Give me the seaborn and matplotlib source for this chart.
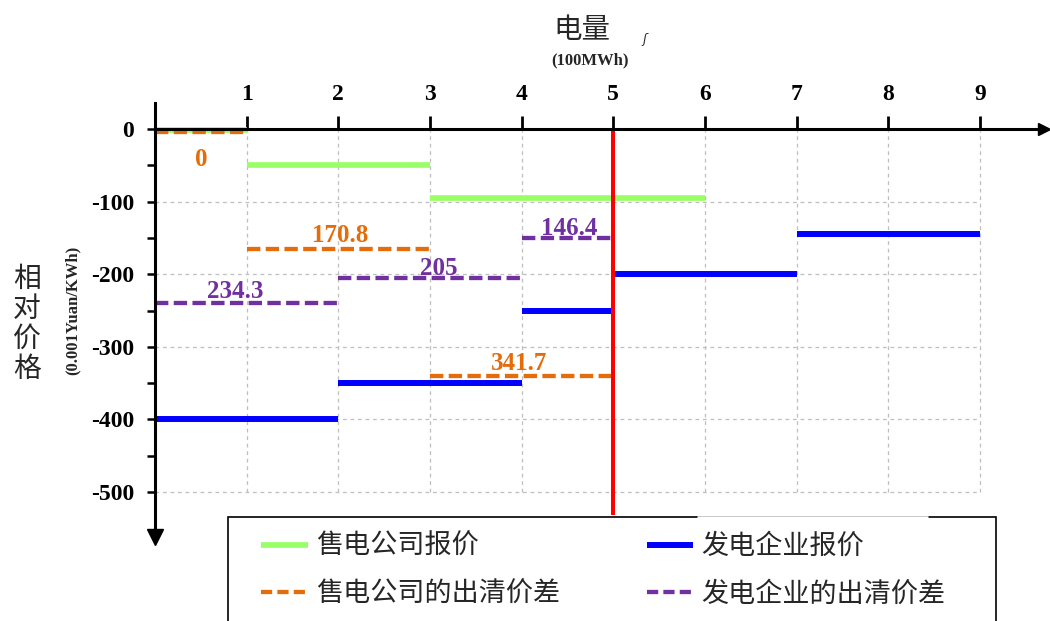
import pandas as pd
import seaborn as sns
import matplotlib.pyplot as plt
from matplotlib.lines import Line2D
from matplotlib.patches import Rectangle

# 售电公司报价 (起点, 终点, 价格)
sell_start = [0, 1, 3]
sell_end = [1, 3, 6]
sell_price = [-2, -50, -95]

# 发电企业报价
gen_start = [0, 2, 4, 5, 7]
gen_end = [2, 4, 5, 7, 9]
gen_price = [-400, -350, -250, -200, -145]

# 售电公司的出清价差
sgap_start = [0, 1, 3]
sgap_end = [1, 3, 5]
sgap_price = [-4, -165, -340]
sgap_label = ['0', '170.8', '341.7']

# 发电企业的出清价差
ggap_start = [0, 2, 4]
ggap_end = [2, 4, 5]
ggap_price = [-240, -205, -150]
ggap_label = ['234.3', '205', '146.4']

clear_q = 5
x_ticks = [1, 2, 3, 4, 5, 6, 7, 8, 9]
y_ticks = [0, -100, -200, -300, -400, -500]
y_minor = [-50, -150, -250, -350, -450]

sns.set_theme(style='white')
plt.rcParams['font.family'] = ['Noto Sans CJK SC', 'DejaVu Sans']
plt.rcParams['axes.unicode_minus'] = False
plt.rcParams['lines.solid_capstyle'] = 'butt'
plt.rcParams['lines.dash_capstyle'] = 'butt'

serif = ['Liberation Serif', 'DejaVu Serif']
green, blue, orange, purple = '#99FF66', '#0000FF', '#E46C0A', '#7030A0'
dash = (0, (3.1, 1.25))


def segmentos(starts, ends, prices):
    filas = []
    for i, (a, b, p) in enumerate(zip(starts, ends, prices)):
        filas.append({'x': a, 'y': p, 'seg': i})
        filas.append({'x': b, 'y': p, 'seg': i})
    return pd.DataFrame(filas)


W, H = 1050, 621
fig = plt.figure(figsize=(W / 100, H / 100), dpi=100)

# ejes: x=0 en 155px, 91.67px por unidad; y=0 en 129px, 0.726px por unidad
xl, xr = -0.05, 9.76
yb, yt = -580, 40
px_l = 155 + xl * 91.67
px_r = 155 + xr * 91.67
py_t = 129 - yt * 0.726
py_b = 129 - yb * 0.726
ax = fig.add_axes([px_l / W, 1 - py_b / H, (px_r - px_l) / W, (py_b - py_t) / H])
ax.set_xlim(xl, xr)
ax.set_ylim(yb, yt)
ax.patch.set_alpha(0)

# rejilla punteada
ax.hlines(y_ticks[1:], 0, 9, colors='#BFBFBF', linestyles=(0, (3, 3)), lw=0.9, zorder=0)
ax.vlines(x_ticks, -500, 0, colors='#BFBFBF', linestyles=(0, (3, 3)), lw=0.9, zorder=0)

# líneas de precio
sns.lineplot(data=segmentos(sell_start, sell_end, sell_price), x='x', y='y', units='seg',
             estimator=None, sort=False, color=green, lw=4.1, ax=ax, legend=False, zorder=3)
sns.lineplot(data=segmentos(gen_start, gen_end, gen_price), x='x', y='y', units='seg',
             estimator=None, sort=False, color=blue, lw=4.3, ax=ax, legend=False, zorder=3)
sns.lineplot(data=segmentos(sgap_start, sgap_end, sgap_price), x='x', y='y', units='seg',
             estimator=None, sort=False, color=orange, lw=3.1, ls=dash, ax=ax,
             legend=False, zorder=4)
sns.lineplot(data=segmentos(ggap_start, ggap_end, ggap_price), x='x', y='y', units='seg',
             estimator=None, sort=False, color=purple, lw=3.1, ls=dash, ax=ax,
             legend=False, zorder=4)

# línea de cantidad de equilibrio
ax.plot([clear_q, clear_q], [0, -531], color='red', lw=2.9, zorder=5, clip_on=False)

# etiquetas de los diferenciales (x del texto y desplazamiento en puntos)
sgap_lab_x = [0.5, 2.02, 3.97]
sgap_dy = [-24.5, 5, 4.3]
for x, p, lab, dy in zip(sgap_lab_x, sgap_price, sgap_label, sgap_dy):
    ax.annotate(lab, (x, p), xytext=(0, dy), textcoords='offset points',
                ha='center', va='baseline', color=orange, fontsize=18, fontweight='bold',
                family=serif, zorder=6)
ggap_lab_x = [0.87, 3.09, 4.52]
ggap_dy = [3.6, 2.2, 1.8]
for x, p, lab, dy in zip(ggap_lab_x, ggap_price, ggap_label, ggap_dy):
    ax.annotate(lab, (x, p), xytext=(0, dy), textcoords='offset points',
                ha='center', va='baseline', color=purple, fontsize=18, fontweight='bold',
                family=serif, zorder=6)

# ejes con flechas
ax.spines['right'].set_visible(False)
ax.spines['bottom'].set_visible(False)
ax.spines['top'].set_position(('data', 0))
ax.spines['top'].set_bounds(0, 9.68)
ax.spines['left'].set_position(('data', 0))
ax.spines['left'].set_bounds(-560, 36)
for s in ['top', 'left']:
    ax.spines[s].set_linewidth(2.2)
    ax.spines[s].set_color('black')
    ax.spines[s].set_zorder(7)
ax.plot([9.7], [0], marker='>', ms=9, color='black', clip_on=False, zorder=8)
ax.plot([0], [-562], marker='v', ms=11, color='black', clip_on=False, zorder=8)

ax.xaxis.set_ticks_position('top')
ax.set_xticks(x_ticks)
ax.set_xticklabels([str(v) for v in x_ticks])
ax.set_yticks(y_ticks)
ax.set_yticklabels([str(v) for v in y_ticks])
ax.set_yticks(y_minor, minor=True)
ax.tick_params(axis='x', which='major', direction='out', length=9.5, width=2, pad=8,
               colors='black')
ax.tick_params(axis='y', which='both', direction='out', length=6, width=1.8, pad=9,
               colors='black', left=True)
for t in ax.get_xticklabels() + ax.get_yticklabels():
    t.set_fontfamily(serif)
    t.set_fontweight('bold')
    t.set_fontsize(17)
ax.set_xlabel('')
ax.set_ylabel('')

# títulos de ejes
fig.text(582 / W, 1 - 30 / H, '电量', ha='center', va='center', fontsize=20.5)
fig.text(590 / W, 1 - 60 / H, '(100MWh)', ha='center', va='center', fontsize=12,
         fontweight='bold', family=serif)
fig.text(645 / W, 1 - 40 / H, 'ʃ', ha='center', va='center', fontsize=9, style='italic')
fig.text(27 / W, 1 - 324 / H, '相\n对\n价\n格', ha='center', va='center', fontsize=20,
         linespacing=1.0)
fig.text(73 / W, 1 - 310 / H, '(0.001Yuan/KWh)', ha='center', va='center', fontsize=12,
         fontweight='bold', family=serif, rotation=90)

# leyenda con marco propio
fig.patches.append(Rectangle((228 / W, 1 - 680 / H), (996 - 228) / W, (680 - 517) / H,
                             transform=fig.transFigure, facecolor='white',
                             edgecolor='black', lw=1.2, zorder=9))
fig.lines.append(Line2D([697 / W, 928 / W], [1 - 517 / H, 1 - 517 / H],
                        transform=fig.transFigure, color='white', lw=1.8, zorder=9.5))
handles = [
    Line2D([], [], color=green, lw=4.1),
    Line2D([], [], color=orange, lw=3.1, ls=(0, (2.6, 1.2))),
    Line2D([], [], color=blue, lw=4.3),
    Line2D([], [], color=purple, lw=3.1, ls=(0, (2.6, 1.2))),
]
labels = ['售电公司报价', '售电公司的出清价差', '发电企业报价', '发电企业的出清价差']
leg = fig.legend(handles, labels, ncol=2, loc='upper left',
                 bbox_to_anchor=(261 / W, 1 - 533 / H), frameon=False, fontsize=19.5,
                 borderpad=0, borderaxespad=0, handlelength=1.72, handletextpad=0.3,
                 columnspacing=3.2, labelspacing=0.75)
leg.set_zorder(10)

plt.savefig('out.png', dpi=100)
